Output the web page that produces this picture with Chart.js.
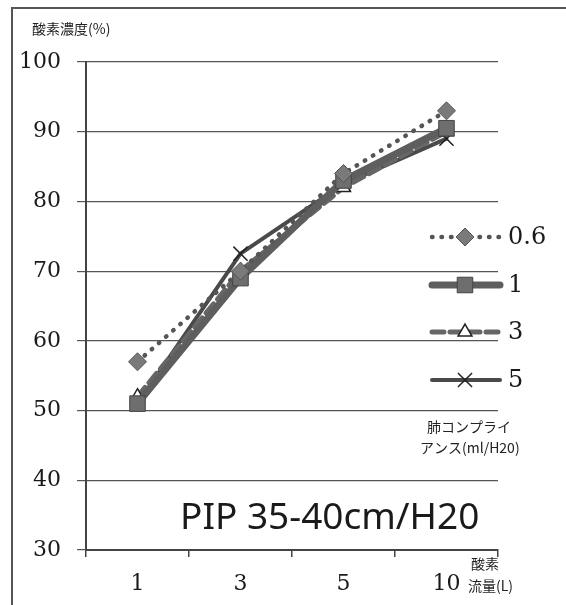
<!DOCTYPE html>
<html>
<head>
<meta charset="utf-8">
<script src="https://cdn.jsdelivr.net/npm/chart.js@4.4.0/dist/chart.umd.min.js"></script>
<style>
  html, body { margin: 0; padding: 0; background: #fff; }
  #wrap { width: 566px; height: 605px; position: relative; }
</style>
</head>
<body>
<div id="wrap"><canvas id="chart" width="566" height="605"></canvas></div>
<script>
// ==========================================
// データ (酸素流量 vs 酸素濃度)
// ==========================================
const flowLabels = ['1', '3', '5', '10'];
const seriesNames = ['0.6', '1', '3', '5'];
const c06 = [57, 70, 84, 93];
const c1 = [51, 69, 83, 90.5];
const c3 = [52, 70, 82, 90];
const c5 = [51, 72.5, 82.5, 89];
const yTicks = [30, 40, 50, 60, 70, 80, 90, 100];

const SERIF = '"DejaVu Serif", "Liberation Serif", serif';
const JP = '"Noto Sans CJK JP", sans-serif';
const INK = '#444';

const datasets = [
    {
        label: seriesNames[0], data: c06,
        borderColor: '#555', borderWidth: 4.5, borderDash: [0.5, 9], borderCapStyle: 'round',
        pointStyle: 'rectRot', pointRadius: 9, pointBackgroundColor: '#7a7a7a', pointBorderColor: '#555', pointBorderWidth: 1
    },
    {
        label: seriesNames[1], data: c1,
        borderColor: '#5e5e5e', borderWidth: 7, borderCapStyle: 'round',
        pointStyle: 'rect', pointRadius: 11, pointBackgroundColor: '#6e6e6e', pointBorderColor: '#444', pointBorderWidth: 1
    },
    {
        label: seriesNames[2], data: c3,
        borderColor: '#666', borderWidth: 5, borderDash: [12, 6], borderCapStyle: 'round',
        pointStyle: 'triangle', pointRadius: 8, pointBackgroundColor: '#fff', pointBorderColor: '#222', pointBorderWidth: 1.5
    },
    {
        label: seriesNames[3], data: c5,
        borderColor: '#4a4a4a', borderWidth: 4, borderCapStyle: 'round',
        pointStyle: 'crossRot', pointRadius: 10, pointBackgroundColor: '#222', pointBorderColor: '#222', pointBorderWidth: 1.5
    }
];

// legend + texts + frame
const decorPlugin = {
    id: 'decor',
    beforeDraw(chart) {
        const ctx = chart.ctx;
        ctx.save();
        ctx.strokeStyle = '#555';
        ctx.lineWidth = 2;
        ctx.beginPath();
        ctx.moveTo(12, 605);
        ctx.lineTo(12, 8);
        ctx.lineTo(566, 8);
        ctx.stroke();
        ctx.restore();
    },
    afterDraw(chart) {
        const ctx = chart.ctx;
        ctx.save();
        ctx.fillStyle = '#222';
        ctx.textBaseline = 'middle';

        // y title
        ctx.font = '14px ' + JP;
        ctx.textAlign = 'left';
        ctx.fillText('酸素濃度(%)', 32, 29);

        // x title
        ctx.fillText('酸素', 471, 564);
        ctx.fillText('流量(L)', 468, 586);

        // PIP annotation
        ctx.font = '37px "Noto Sans", "Open Sans", sans-serif';
        ctx.fillStyle = '#1a1a1a';
        ctx.fillText('PIP 35-40cm/H20', 180, 518);

        // legend
        const rows = [237, 285, 332, 380];
        chart.data.datasets.forEach((ds, i) => {
            const y = rows[i];
            ctx.save();
            ctx.strokeStyle = ds.borderColor;
            ctx.lineWidth = ds.borderWidth;
            ctx.lineCap = 'round';
            ctx.setLineDash(ds.borderDash || []);
            ctx.beginPath();
            ctx.moveTo(432, y);
            ctx.lineTo(500, y);
            ctx.stroke();
            ctx.restore();
            ctx.save();
            ctx.fillStyle = ds.pointBackgroundColor;
            ctx.strokeStyle = ds.pointBorderColor;
            ctx.lineWidth = ds.pointBorderWidth;
            Chart.helpers.drawPoint(ctx, {
                pointStyle: ds.pointStyle, radius: ds.pointRadius, borderWidth: ds.pointBorderWidth, rotation: 0
            }, 465, y);
            ctx.restore();
            ctx.font = '24px ' + SERIF;
            ctx.fillStyle = '#1a1a1a';
            ctx.fillText(ds.label, 508, y + 1);
        });

        ctx.font = '14px ' + JP;
        ctx.fillStyle = '#222';
        ctx.fillText('肺コンプライ', 427, 427);
        ctx.fillText('アンス(ml/H20)', 420, 448);
        ctx.restore();
    }
};

new Chart(document.getElementById('chart'), {
    type: 'line',
    data: { labels: flowLabels, datasets: datasets },
    options: {
        responsive: false,
        animation: false,
        layout: { padding: { left: 0, right: 68, top: 62, bottom: 0 } },
        plugins: { legend: { display: false }, tooltip: { enabled: false } },
        elements: { line: { tension: 0 } },
        scales: {
            x: {
                type: 'category',
                offset: true,
                afterFit: s => { s.height = 55; },
                grid: { display: true, offset: true, drawOnChartArea: false, drawTicks: true, tickLength: 7, color: INK, lineWidth: 1.5 },
                border: { display: true, color: INK, width: 2 },
                ticks: { color: '#1a1a1a', font: { family: SERIF, size: 22 }, padding: 14 }
            },
            y: {
                min: 30, max: 100,
                afterFit: s => { s.width = 86; },
                afterBuildTicks: s => { s.ticks = yTicks.map(v => ({ value: v })); },
                grid: { color: '#555', lineWidth: 1.2, tickLength: 9 },
                border: { display: true, color: INK, width: 2 },
                ticks: { color: '#1a1a1a', font: { family: SERIF, size: 22 }, padding: 16 }
            }
        }
    },
    plugins: [decorPlugin]
});
</script>
</body>
</html>
